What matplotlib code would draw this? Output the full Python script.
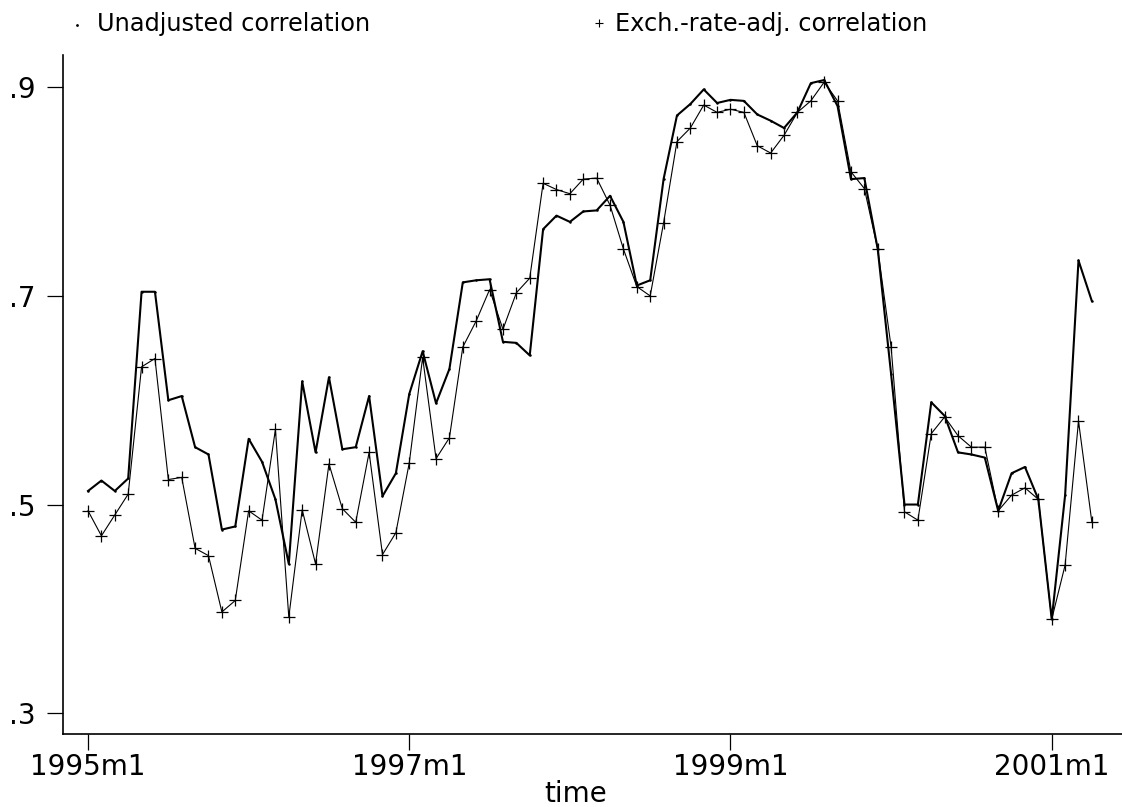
import matplotlib
matplotlib.use("Agg")
import matplotlib.pyplot as plt
from matplotlib.lines import Line2D
import numpy as np

# monthly correlations, 1995m1 .. 2001m4
unadj = [0.513, 0.523, 0.513, 0.525, 0.704, 0.704, 0.600, 0.604, 0.555, 0.548,
         0.476, 0.479, 0.563, 0.541, 0.505, 0.443, 0.618, 0.550, 0.622, 0.553,
         0.555, 0.604, 0.508, 0.530, 0.606, 0.647, 0.597, 0.630, 0.713, 0.715,
         0.716, 0.656, 0.655, 0.643, 0.764, 0.777, 0.771, 0.781, 0.782, 0.796,
         0.771, 0.710, 0.715, 0.812, 0.873, 0.884, 0.898, 0.885, 0.888, 0.887,
         0.874, 0.868, 0.861, 0.876, 0.904, 0.907, 0.882, 0.812, 0.813, 0.745,
         0.625, 0.500, 0.500, 0.598, 0.585, 0.550, 0.548, 0.545, 0.494, 0.530,
         0.536, 0.505, 0.390, 0.509, 0.734, 0.695]

adj = [0.494, 0.470, 0.490, 0.510, 0.632, 0.640, 0.524, 0.526, 0.458, 0.451,
       0.397, 0.408, 0.494, 0.485, 0.572, 0.392, 0.495, 0.443, 0.539, 0.496,
       0.483, 0.550, 0.452, 0.473, 0.540, 0.641, 0.544, 0.564, 0.651, 0.676,
       0.706, 0.668, 0.703, 0.717, 0.808, 0.802, 0.798, 0.812, 0.813, 0.787,
       0.745, 0.709, 0.700, 0.770, 0.848, 0.861, 0.883, 0.876, 0.879, 0.876,
       0.844, 0.837, 0.854, 0.876, 0.887, 0.905, 0.887, 0.819, 0.803, 0.745,
       0.651, 0.493, 0.485, 0.568, 0.584, 0.566, 0.555, 0.555, 0.494, 0.509,
       0.516, 0.505, 0.390, 0.442, 0.580, 0.483]

xtick_pos = [0, 24, 48, 72]
xtick_labels = ["1995m1", "1997m1", "1999m1", "2001m1"]
ytick_pos = [0.3, 0.5, 0.7, 0.9]
ytick_labels = [".3", ".5", ".7", ".9"]

months = np.arange(len(unadj))

W, H = 1122, 807
fig = plt.figure(figsize=(W / 100, H / 100), dpi=100)
ax = fig.add_axes([63 / W, (H - 734) / H, (W - 63) / W, (734 - 55) / H])

ax.plot(months, unadj, color="black", lw=1.5, marker="o", ms=0.8,
        mfc="black", mec="black", zorder=3)
ax.plot(months, adj, color="black", lw=0.8, marker="+", ms=9, mew=0.9,
        zorder=2)

ax.set_xlim(-1.87, 77.25)
ax.set_ylim(0.28, 0.931)

ax.set_xticks(xtick_pos)
ax.set_xticklabels(xtick_labels)
ax.set_yticks(ytick_pos)
ax.set_yticklabels(ytick_labels)
ax.tick_params(axis="both", direction="out", length=11.5, width=0.9,
               labelsize=20, color="black")
ax.tick_params(axis="x", pad=2)
ax.tick_params(axis="y", pad=8)

for side in ["top", "right"]:
    ax.spines[side].set_visible(False)
for side in ["left", "bottom"]:
    ax.spines[side].set_linewidth(1.2)

fig.text(576 / W, 1 - 794 / H, "time", ha="center", va="center", fontsize=20)

# legend above the plot
fig.add_artist(Line2D([77 / W], [1 - 25 / H], marker="o", ms=1.0,
                      color="black", linestyle="none"))
fig.text(97 / W, 1 - 24 / H, "Unadjusted correlation", ha="left",
         va="center", fontsize=17.3)
fig.add_artist(Line2D([599 / W], [1 - 23 / H], marker="+", ms=6, mew=0.8,
                      color="black", linestyle="none"))
fig.text(615 / W, 1 - 24 / H, "Exch.-rate-adj. correlation", ha="left",
         va="center", fontsize=17.3)

fig.savefig("out.png", dpi=100)
